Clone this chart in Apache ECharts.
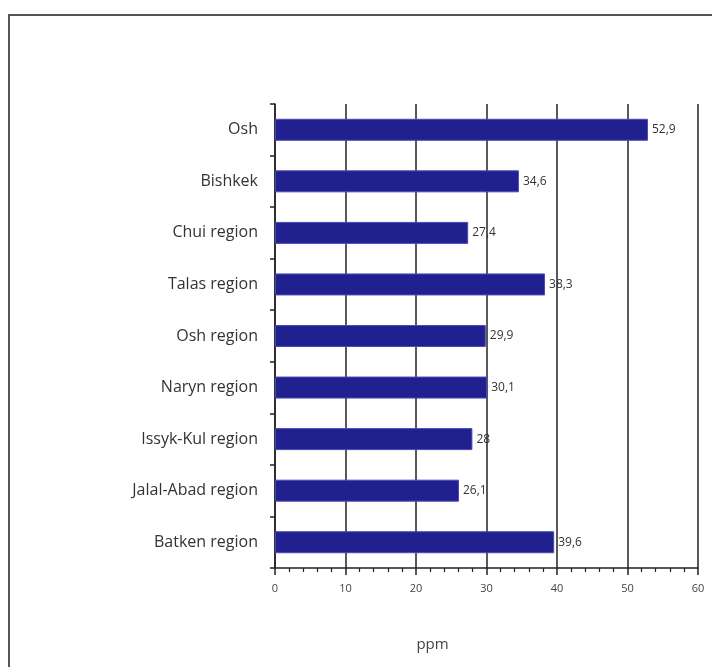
<!DOCTYPE html>
<html>
<head>
<meta charset="utf-8">
<script src="https://cdn.jsdelivr.net/npm/echarts@6/dist/echarts.min.js"></script>
<style>
  html, body { margin: 0; padding: 0; background: #fff; }
  #chart { width: 712px; height: 667px; }
</style>
</head>
<body>
<div id="chart"></div>
<script>
const categories = ['Osh', 'Bishkek', 'Chui region', 'Talas region', 'Osh region',
  'Naryn region', 'Issyk-Kul region', 'Jalal-Abad region', 'Batken region']
const values = [52.9, 34.6, 27.4, 38.3, 29.9, 30.1, 28, 26.1, 39.6]
const xTicks = [0, 10, 20, 30, 40, 50, 60]

const chart = echarts.init(document.getElementById('chart'))

const option = {
  animation: false,
  textStyle: { fontFamily: 'Open Sans' },
  graphic: [{
    type: 'rect',
    shape: { x: 9, y: 15, width: 720, height: 680 },
    style: { fill: 'none', stroke: '#555', lineWidth: 2 }
  }],
  grid: {
    left: 275,
    right: 14,
    top: 104,
    bottom: 99
  },
  xAxis: {
    type: 'value',
    min: xTicks[0],
    max: xTicks[xTicks.length - 1],
    interval: 10,
    name: 'ppm',
    nameLocation: 'middle',
    nameGap: 69,
    // the unit sits left of the plot centre in the original
    nameTextStyle: { fontSize: 15, color: '#444', padding: [0, 108, 0, 0] },
    axisLine: { show: true, lineStyle: { color: '#222', width: 1.5 } },
    axisTick: { show: true, inside: false, length: 7, lineStyle: { color: '#222', width: 1.5 } },
    minorTick: { show: true, splitNumber: 5, length: 4, lineStyle: { color: '#222', width: 1.2 } },
    axisLabel: { fontSize: 11, color: '#444', margin: 15 },
    splitLine: { show: true, lineStyle: { color: '#222', width: 1.5 } }
  },
  yAxis: {
    type: 'category',
    data: categories,
    inverse: true,
    axisLine: { show: true, lineStyle: { color: '#222', width: 1.5 } },
    axisTick: { show: true, inside: false, length: 5, lineStyle: { color: '#222', width: 1.5 } },
    axisLabel: { fontSize: 16, color: '#333', margin: 17 }
  },
  series: [{
    type: 'bar',
    data: values,
    barWidth: 22,
    itemStyle: {
      color: '#20208f',
      borderColor: '#4a4ab8',
      borderWidth: 1
    },
    label: {
      show: true,
      position: 'right',
      distance: 4,
      fontSize: 12,
      color: '#333',
      formatter: p => String(p.value).replace('.', ',')
    }
  }]
}

chart.setOption(option)
</script>
</body>
</html>
